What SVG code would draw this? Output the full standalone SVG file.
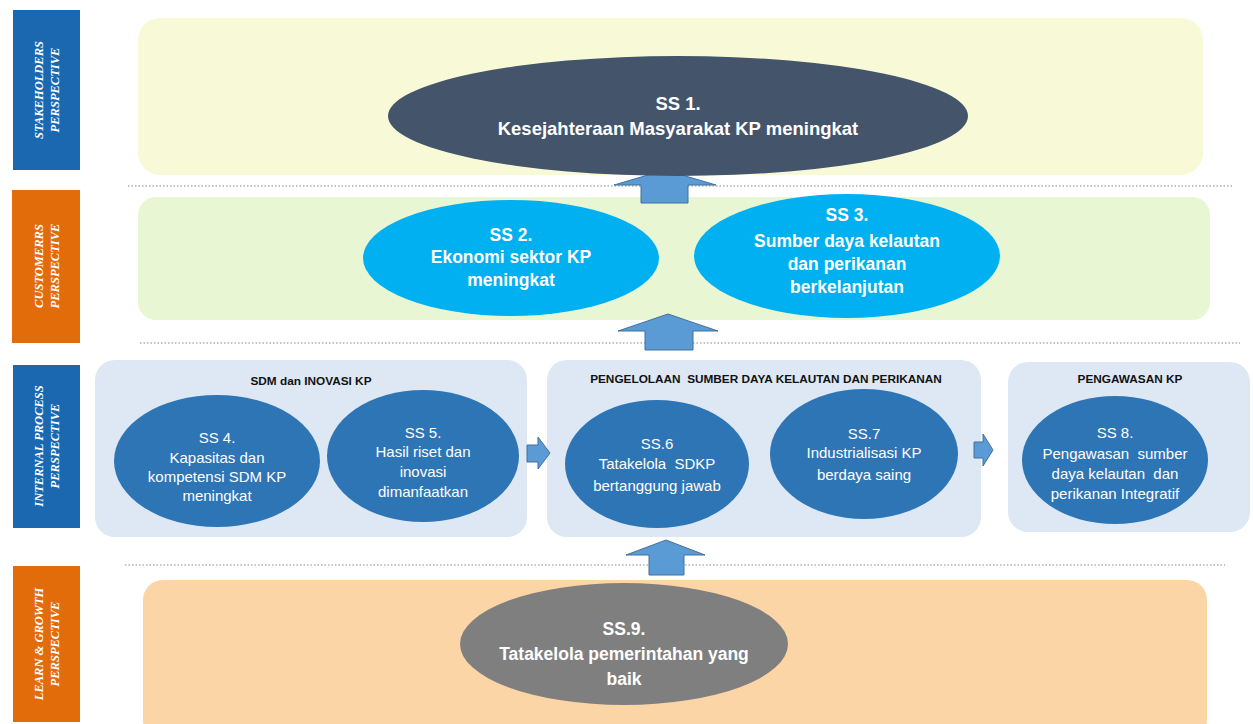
<svg xmlns="http://www.w3.org/2000/svg" width="1253" height="724" viewBox="0 0 1253 724">
<style>
.lab{fill:#fff;font-family:"Liberation Serif",serif;font-weight:bold;font-style:italic;font-size:12.5px;text-anchor:middle}
.bt{fill:#fff;font-family:"Liberation Sans",Arial,sans-serif;font-weight:bold;font-size:17.5px;text-anchor:middle}
.nt{fill:#fff;font-family:"Liberation Sans",Arial,sans-serif;font-size:15px;text-anchor:middle}
.pt{fill:#111;font-family:"Liberation Sans",Arial,sans-serif;font-weight:bold;font-size:11.8px;text-anchor:middle}
.dot{stroke:#888;stroke-width:1.2;stroke-dasharray:1.5 2}
.arr{fill:#5b9bd5;stroke:#41719c;stroke-width:1}
.mid{fill:#2e75b6}
</style>
<rect width="1253" height="724" fill="#fff"/>
<g id="perspectives">
<rect x="13" y="10" width="67" height="160" fill="#1b67b0"/>
<text class="lab" transform="translate(46,90) rotate(-90)"><tspan x="0" y="-3">STAKEHOLDERS</tspan><tspan x="0" y="13">PERSPECTIVE</tspan></text>
<rect x="12" y="190" width="68" height="153" fill="#e36c0a"/>
<text class="lab" transform="translate(46,266) rotate(-90)"><tspan x="0" y="-3">CUSTOMERRS</tspan><tspan x="0" y="13">PERSPECTIVE</tspan></text>
<rect x="13" y="365" width="67" height="163" fill="#1b67b0"/>
<text class="lab" transform="translate(46,446) rotate(-90)"><tspan x="0" y="-3">INTERNAL PROCESS</tspan><tspan x="0" y="13">PERSPECTIVE</tspan></text>
<rect x="13" y="566" width="67" height="156" fill="#e36c0a"/>
<text class="lab" transform="translate(46,644) rotate(-90)"><tspan x="0" y="-3">LEARN &amp; GROWTH</tspan><tspan x="0" y="13">PERSPECTIVE</tspan></text>
</g>
<g id="panels">
<rect x="138" y="18" width="1065" height="157" rx="22" fill="#f8f9d6"/>
<rect x="138" y="197" width="1072" height="123" rx="18" fill="#e8f6d4"/>
<rect x="95" y="360" width="432" height="177" rx="20" fill="#dde8f4"/>
<rect x="547" y="360" width="434" height="177" rx="20" fill="#dde8f4"/>
<rect x="1008" y="362" width="242" height="170" rx="20" fill="#dde8f4"/>
<rect x="143" y="580" width="1064" height="160" rx="20" fill="#fbd5a6"/>
<text class="pt" x="311" y="385">SDM dan INOVASI KP</text>
<text class="pt" x="766" y="383" xml:space="preserve">PENGELOLAAN  SUMBER DAYA KELAUTAN DAN PERIKANAN</text>
<text class="pt" x="1130" y="383">PENGAWASAN KP</text>
</g>
<g id="dividers">
<line class="dot" x1="128" y1="186" x2="1233" y2="186"/>
<line class="dot" x1="140" y1="343" x2="1240" y2="343"/>
<line class="dot" x1="125" y1="565" x2="1225" y2="565"/>
</g>
<g id="connectors">
<polygon class="arr" points="641,203 641,185 614,185 665,170 716,185 688,185 688,203"/>
<polygon class="arr" points="645,350 645,331 618,331 668,314 718,331 693,331 693,350"/>
<polygon class="arr" points="649,575 649,555 626,555 666,540 705,555 684,555 684,575"/>
<polygon class="arr" points="527,445 538,445 538,437 550,453 538,469 538,462 527,462"/>
<polygon class="arr" points="974,442 983,442 983,434 993,450 983,466 983,458 974,458"/>
</g>
<g id="ss1">
<ellipse cx="678" cy="116" rx="290" ry="60" fill="#44546a"/>
<text class="bt" x="678" y="110" style="font-size:18.5px">SS 1.</text>
<text class="bt" x="678" y="135" style="font-size:18.5px">Kesejahteraan Masyarakat KP meningkat</text>
</g>
<g id="ss2">
<ellipse cx="511" cy="258" rx="148" ry="58" fill="#00b0f0"/>
<text class="bt" x="511" y="241">SS 2.</text>
<text class="bt" x="511" y="263">Ekonomi sektor KP</text>
<text class="bt" x="511" y="286">meningkat</text>
</g>
<g id="ss3">
<ellipse cx="847" cy="256" rx="153" ry="62" fill="#00b0f0"/>
<text class="bt" x="847" y="221">SS 3.</text>
<text class="bt" x="847" y="247">Sumber daya kelautan</text>
<text class="bt" x="847" y="270">dan perikanan</text>
<text class="bt" x="847" y="293">berkelanjutan</text>
</g>
<g id="ss4">
<ellipse class="mid" cx="217" cy="461" rx="103" ry="66"/>
<text class="nt" x="217" y="443">SS 4.</text>
<text class="nt" x="217" y="463">Kapasitas dan</text>
<text class="nt" x="217" y="482">kompetensi SDM KP</text>
<text class="nt" x="217" y="501">meningkat</text>
</g>
<g id="ss5">
<ellipse class="mid" cx="423" cy="456" rx="96" ry="66"/>
<text class="nt" x="423" y="438">SS 5.</text>
<text class="nt" x="423" y="457">Hasil riset dan</text>
<text class="nt" x="423" y="477">inovasi</text>
<text class="nt" x="423" y="497">dimanfaatkan</text>
</g>
<g id="ss6">
<ellipse class="mid" cx="657" cy="464" rx="92" ry="64"/>
<text class="nt" x="657" y="449">SS.6</text>
<text class="nt" x="657" y="469" xml:space="preserve">Tatakelola  SDKP</text>
<text class="nt" x="657" y="491">bertanggung jawab</text>
</g>
<g id="ss7">
<ellipse class="mid" cx="864" cy="454" rx="94" ry="65"/>
<text class="nt" x="864" y="439">SS.7</text>
<text class="nt" x="864" y="458">Industrialisasi KP</text>
<text class="nt" x="864" y="480">berdaya saing</text>
</g>
<g id="ss8">
<ellipse class="mid" cx="1115" cy="460" rx="93" ry="64"/>
<text class="nt" x="1115" y="438">SS 8.</text>
<text class="nt" x="1115" y="459" xml:space="preserve">Pengawasan  sumber</text>
<text class="nt" x="1115" y="479" xml:space="preserve">daya kelautan  dan</text>
<text class="nt" x="1115" y="499">perikanan Integratif</text>
</g>
<g id="ss9">
<ellipse cx="624" cy="644" rx="164" ry="61" fill="#7f7f7f"/>
<text class="bt" x="624" y="635">SS.9.</text>
<text class="bt" x="624" y="660">Tatakelola pemerintahan yang</text>
<text class="bt" x="624" y="685">baik</text>
</g>
</svg>
